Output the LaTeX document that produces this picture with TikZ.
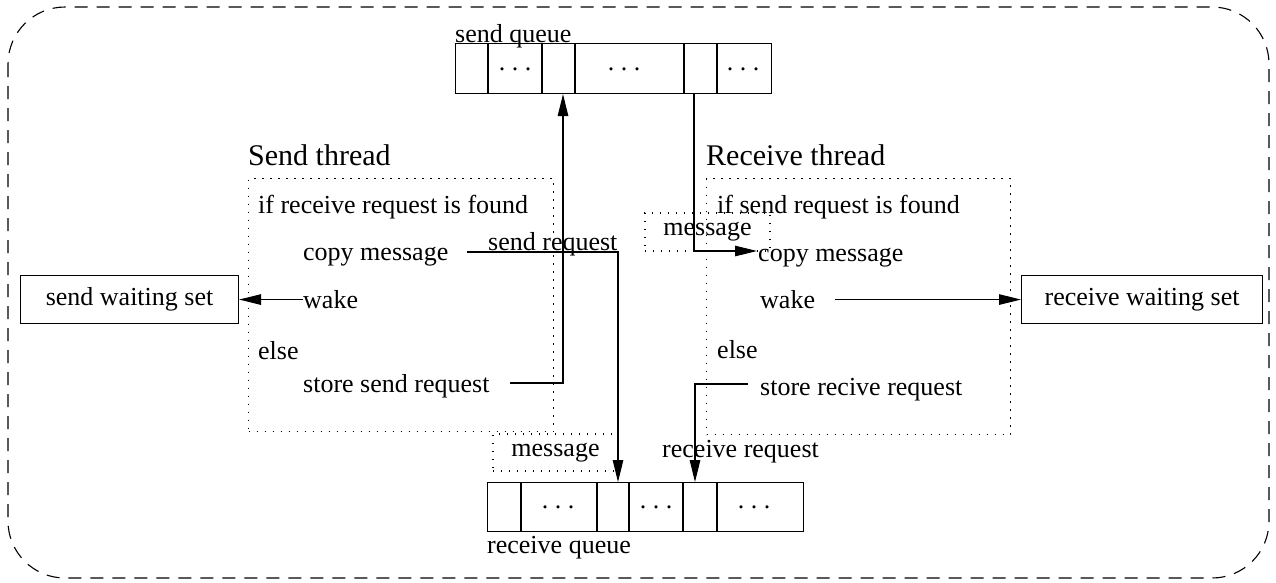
\documentclass[tikz,border=0pt]{standalone}
\usepackage{fontspec}
\setmainfont{Liberation Serif}
\usetikzlibrary{arrows.meta}
\begin{document}
\begin{tikzpicture}[x=1pt,y=-1pt,
  every node/.style={font=\fontsize{26pt}{30pt}\selectfont\frenchspacing, inner sep=0pt},
  txt/.style={anchor=base west},
  title/.style={anchor=base west, font=\fontsize{30pt}{36pt}\selectfont},
  boxline/.style={line width=1.1pt},
  dotline/.style={line width=1.1pt, dash pattern=on 1.2pt off 6.8pt},
  arr/.style={line width=1.1pt, -{Triangle[length=22pt,width=10.5pt]}},
  dots/.style={anchor=base}
]
\useasboundingbox (0,0) rectangle (1276,582);
% outer frame
\draw[line width=1.1pt, dash pattern=on 13pt off 9pt, rounded corners=57pt] (8,7) rectangle (1269,578);

% send queue
\node[txt] (sqlabel) at (455,42) {send queue};
\node[draw, boxline, anchor=north west, minimum width=316pt, minimum height=50pt] (sq) at (455,43) {};
\foreach \dx in {33,87,120,229,262}{
  \draw[boxline] ([xshift=\dx pt]sq.north west) -- ([xshift=\dx pt]sq.south west);
}
\node[dots] (sqd1) at (515,70) {. . .};
\node[dots] (sqd2) at (624,70) {. . .};
\node[dots] (sqd3) at (743,70) {. . .};

% receive queue
\node[draw, boxline, anchor=north west, minimum width=316pt, minimum height=49pt] (rq) at (487,482) {};
\foreach \dx in {34,110,142,196,230}{
  \draw[boxline] ([xshift=\dx pt]rq.north west) -- ([xshift=\dx pt]rq.south west);
}
\node[dots] (rqd1) at (558,508) {. . .};
\node[dots] (rqd2) at (656,508) {. . .};
\node[dots] (rqd3) at (754,508) {. . .};
\node[txt] (rqlabel) at (487,553) {receive queue};

% threads
\node[title] (stitle) at (248,165) {Send thread};
\node[draw, dotline, anchor=north west, minimum width=305pt, minimum height=253pt] (sthread) at (248,178) {};
\node[txt] (sif) at (258,213) {if receive request is found};
\node[txt] (scopy) at (303,260) {copy message};
\node[txt] (swake) at (303,308) {wake};
\node[txt] (selse) at (258,359) {else};
\node[txt] (sstore) at (303,392) {store send request};

\node[title] (rtitle) at (706,165) {Receive thread};
\node[draw, dotline, anchor=north west, minimum width=304pt, minimum height=256pt] (rthread) at (706,178) {};
\node[txt] (rif) at (717,213) {if send request is found};
\node[txt] (rcopy) at (758,261) {copy message};
\node[txt] (rwake) at (760,308) {wake};
\node[txt] (relse) at (717,358) {else};
\node[txt] (rstore) at (760,395) {store recive request};

% waiting sets
\node[draw, boxline, anchor=north west, minimum width=218pt, minimum height=48pt] (swset) at (20,275) {send waiting set};
\node[draw, boxline, anchor=north west, minimum width=241pt, minimum height=48pt] (rwset) at (1021,275) {receive waiting set};

% labels on connectors
\node[txt] (sreq) at (488,250) {send request};
\node[txt] (rreq) at (662,457) {receive request};
\node[draw, dotline, minimum width=125pt, minimum height=38pt] (msg1) at (707.5,232) {message};
\node[draw, dotline, minimum width=125pt, minimum height=37pt] (msg2) at (555.5,452.5) {message};

% connector end points
\coordinate (sstoreout) at (510,383);
\coordinate (scopyout) at (467,252);
\coordinate (rstoreout) at (748,384);
\coordinate (rcopyin) at (757,251);

% connectors
\draw[arr] (sstoreout) -| ([xshift=108pt]sq.south west);
\draw[arr] ([xshift=239pt]sq.south west) |- (rcopyin);
\draw[arr] (scopyout) -| ([xshift=131pt]rq.north west);
\draw[arr] (rstoreout) -| ([xshift=208pt]rq.north west);
\draw[arr] (swake.west |- swset.east) -- (swset.east);
\draw[arr] ([xshift=20pt]rwake.east |- rwset.west) -- (rwset.west);
\end{tikzpicture}
\end{document}
